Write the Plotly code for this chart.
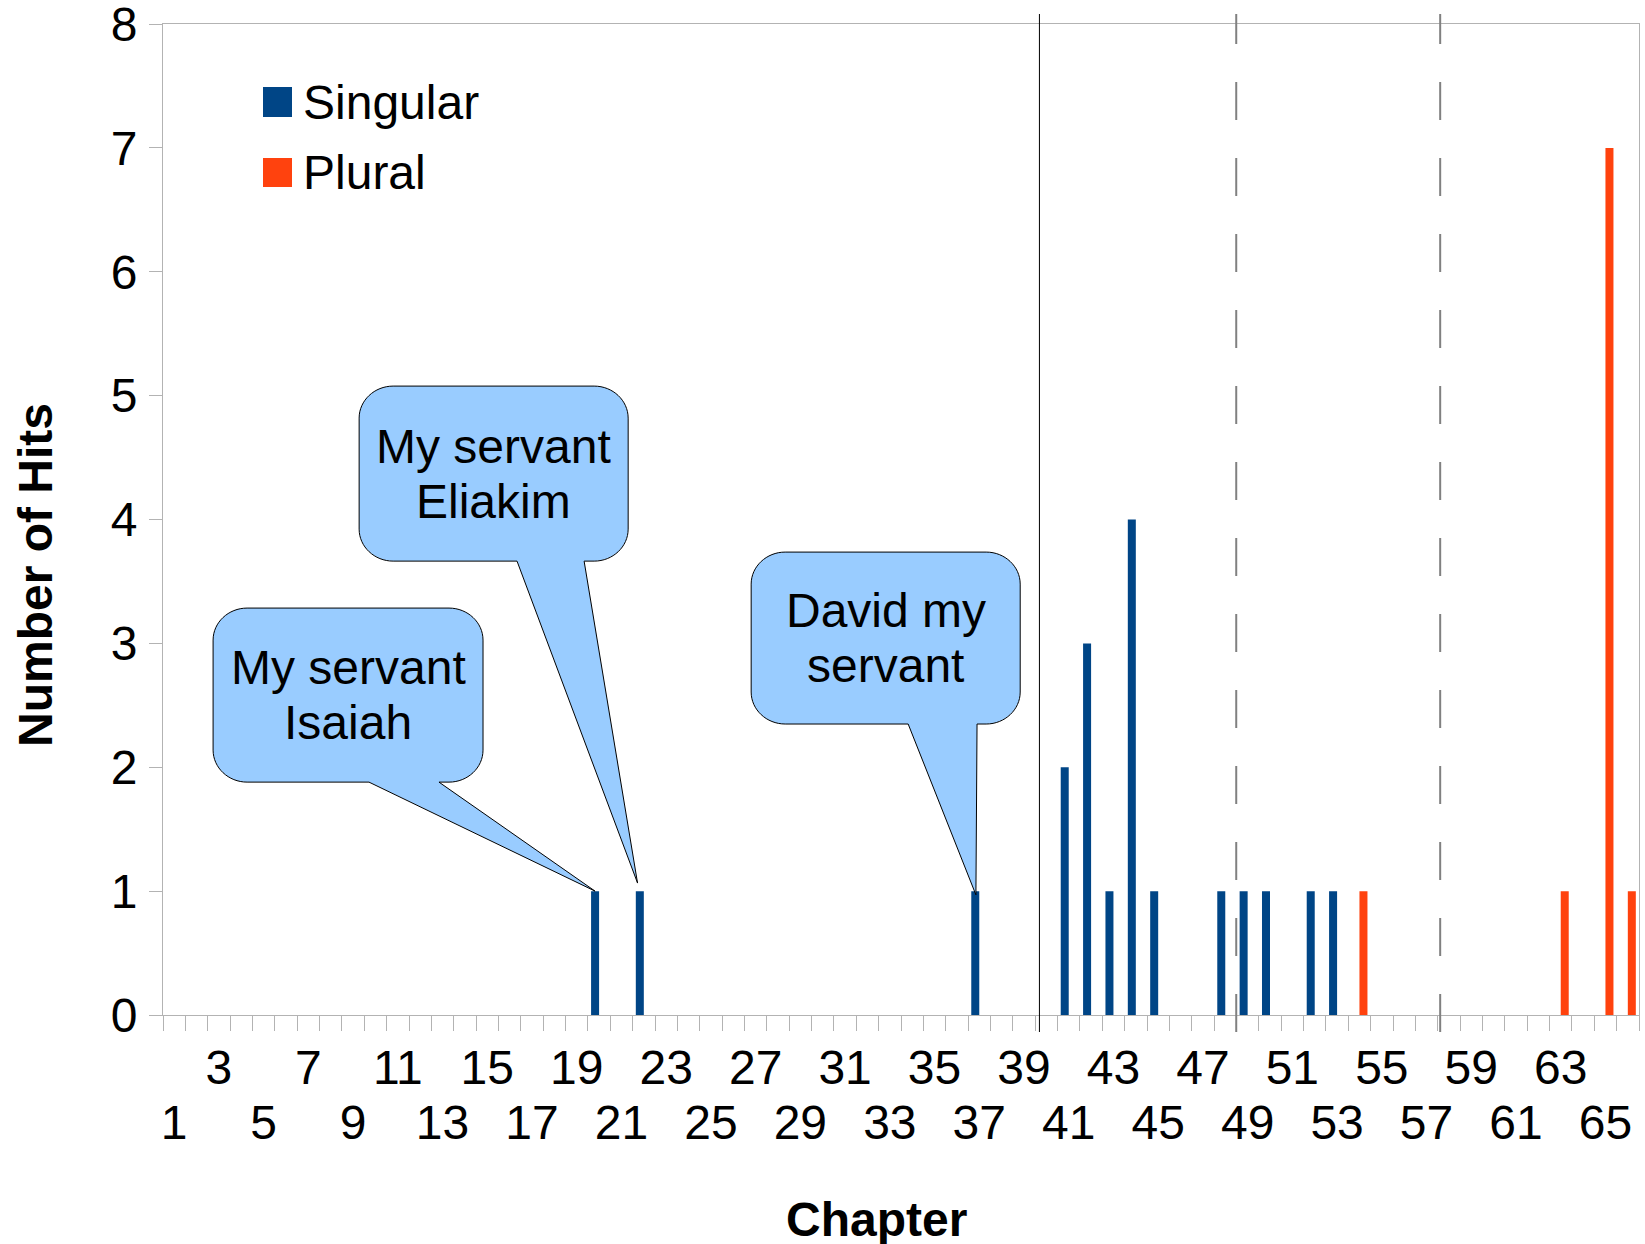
import plotly.graph_objects as go

# ---------------- data ----------------
chapters_singular = [20, 22, 37, 41, 42, 43, 44, 45, 48, 49, 50, 52, 53]
hits_singular = [1, 1, 1, 2, 3, 1, 4, 1, 1, 1, 1, 1, 1]
chapters_plural = [54, 63, 65, 66]
hits_plural = [1, 1, 7, 1]
n_chapters = 66
tick_upper = list(range(3, 66, 4))   # 3, 7, ... 63
tick_lower = list(range(1, 67, 4))   # 1, 5, ... 65
divider_solid = [39.69]
divider_dashed = [48.49, 57.61]

callout_texts = [["My servant", "Isaiah"], ["My servant", "Eliakim"], ["David my", "servant"]]
callout_boxes = [(2.74, 14.81, 1.88, 3.285), (9.27, 21.30, 3.664, 5.077), (26.80, 38.83, 2.349, 3.737)]
callout_bases = [(9.71, 12.84), (16.33, 19.33), (33.82, 36.90)]
callout_tips = [(19.82, 1.0), (21.72, 1.065), (36.85, 0.97)]

# ---------------- geometry / style ----------------
W, H = 1645, 1244
ML, MR, MT, MB = 163, 6, 24, 229
PW, PH = W - ML - MR, H - MT - MB
FONT = "Liberation Sans, Arial, sans-serif"
AXIS_GRAY = "#b3b3b3"
BLUE = "#004586"
ORANGE = "#ff420e"
CALLOUT_FILL = "#99ccff"
BAR_W = 0.358  # width of one bar in chapter units


def paper_x(px):
    return (px - ML) / PW


def paper_y(py):
    return (H - MB - py) / PH


def chap_paper(c):
    return (c - 0.5) / n_chapters


fig = go.Figure()
fig.add_trace(go.Bar(x=chapters_singular, y=hits_singular, name="Singular",
                     width=BAR_W, offset=-BAR_W,
                     marker=dict(color=BLUE, line=dict(width=0)), showlegend=False))
fig.add_trace(go.Bar(x=chapters_plural, y=hits_plural, name="Plural",
                     width=BAR_W, offset=0,
                     marker=dict(color=ORANGE, line=dict(width=0)), showlegend=False))
fig.add_trace(go.Scatter(x=[None], y=[None], xaxis="x2", yaxis="y", showlegend=False,
                         hoverinfo="skip", mode="markers"))

shapes = []
# section dividers
for c in divider_solid:
    shapes.append(dict(type="line", xref="paper", yref="paper",
                       x0=chap_paper(c), x1=chap_paper(c), y0=paper_y(1032), y1=paper_y(14),
                       line=dict(color="#000000", width=1)))
for c in divider_dashed:
    shapes.append(dict(type="line", xref="paper", yref="paper",
                       x0=chap_paper(c), x1=chap_paper(c), y0=paper_y(1032), y1=paper_y(14),
                       line=dict(color="#808080", width=2, dash="38px,38px")))

# callouts
rx = 34 / (PW / n_chapters)
ry = 32 / (PH / 8)
k = 0.55
annotations = []
for txt, (x0, x1, yb, yt), (b1, b2), (tx, ty) in zip(callout_texts, callout_boxes, callout_bases, callout_tips):
    p = (f"M {x0+rx},{yt} L {x1-rx},{yt} "
         f"C {x1-rx+k*rx},{yt} {x1},{yt-ry+k*ry} {x1},{yt-ry} "
         f"L {x1},{yb+ry} "
         f"C {x1},{yb+ry-k*ry} {x1-rx+k*rx},{yb} {x1-rx},{yb} "
         f"L {b2},{yb} L {tx},{ty} L {b1},{yb} "
         f"L {x0+rx},{yb} "
         f"C {x0+rx-k*rx},{yb} {x0},{yb+ry-k*ry} {x0},{yb+ry} "
         f"L {x0},{yt-ry} "
         f"C {x0},{yt-ry+k*ry} {x0+rx-k*rx},{yt} {x0+rx},{yt} Z")
    shapes.append(dict(type="path", xref="x", yref="y", path=p, fillcolor=CALLOUT_FILL,
                       line=dict(color="#000000", width=1), layer="above"))
    cx = (x0 + x1) / 2
    cy = (yb + yt) / 2
    for line, shift in zip(txt, (27.5, -27.5)):
        annotations.append(dict(x=cx, y=cy, xref="x", yref="y", text=line, showarrow=False,
                                yshift=shift, xanchor="center", yanchor="middle",
                                font=dict(family=FONT, size=48, color="#000000")))

# legend (drawn manually to match the large key squares)
legend_items = [("Singular", BLUE, 87, 117), ("Plural", ORANGE, 158, 187)]
for name, col, top, bot in legend_items:
    shapes.append(dict(type="rect", xref="paper", yref="paper",
                       x0=paper_x(263), x1=paper_x(292), y0=paper_y(bot), y1=paper_y(top),
                       fillcolor=col, line=dict(width=0)))
    annotations.append(dict(x=paper_x(301), y=paper_y((top + bot) / 2), xref="paper", yref="paper",
                            text=name, showarrow=False, xanchor="left", yanchor="middle",
                            font=dict(family=FONT, size=48, color="#000000")))

# axis titles
annotations.append(dict(x=paper_x(35), y=paper_y(575), xref="paper", yref="paper",
                        text="<b>Number of Hits</b>", textangle=-90, showarrow=False,
                        xanchor="center", yanchor="middle",
                        font=dict(family=FONT, size=48, color="#000000")))
annotations.append(dict(x=paper_x(876), y=paper_y(1219), xref="paper", yref="paper",
                        text="<b>Chapter</b>", showarrow=False,
                        xanchor="center", yanchor="middle",
                        font=dict(family=FONT, size=48, color="#000000")))

tickfont = dict(family=FONT, size=48, color="#000000")
UP_STANDOFF = -5

fig.update_layout(
    width=W, height=H,
    margin=dict(l=ML, r=MR, t=MT, b=MB, pad=0, autoexpand=False),
    paper_bgcolor="#ffffff", plot_bgcolor="#ffffff",
    barmode="overlay",
    showlegend=False,
    shapes=shapes, annotations=annotations,
    font=dict(family=FONT),
    xaxis=dict(range=[0.5, n_chapters + 0.5], tickmode="array", tickvals=tick_upper,
               ticktext=[str(v) for v in tick_upper], ticks="outside", ticklen=15,
               tickcolor="rgba(0,0,0,0)", tickfont=tickfont, ticklabelstandoff=UP_STANDOFF,
               ticklabeloverflow="allow", automargin=False,
               showline=True, linecolor=AXIS_GRAY, linewidth=1, mirror=True,
               showgrid=False, zeroline=False,
               minor=dict(tickmode="linear", tick0=0.5, dtick=1, ticks="outside", ticklen=15,
                          tickcolor=AXIS_GRAY, tickwidth=1, showgrid=False)),
    xaxis2=dict(overlaying="x", anchor="y", side="bottom", range=[0.5, n_chapters + 0.5],
                tickmode="array", tickvals=tick_lower, ticktext=[str(v) for v in tick_lower],
                ticks="outside", ticklen=15, tickcolor="rgba(0,0,0,0)", tickfont=tickfont,
                ticklabelstandoff=UP_STANDOFF + 55, ticklabeloverflow="allow", automargin=False,
                showline=False, showgrid=False, zeroline=False),
    yaxis=dict(range=[0, 8], tickmode="array", tickvals=list(range(0, 9)), ticks="outside",
               ticklen=13, tickcolor=AXIS_GRAY, tickfont=tickfont, ticklabelstandoff=2,
               ticklabeloverflow="allow", automargin=False,
               showline=True, linecolor=AXIS_GRAY, linewidth=1, mirror=True,
               showgrid=False, zeroline=False),
)

fig.write_html("out.html", config={"displayModeBar": False},
               post_script="document.body.style.margin='0';document.body.style.overflow='hidden';")
